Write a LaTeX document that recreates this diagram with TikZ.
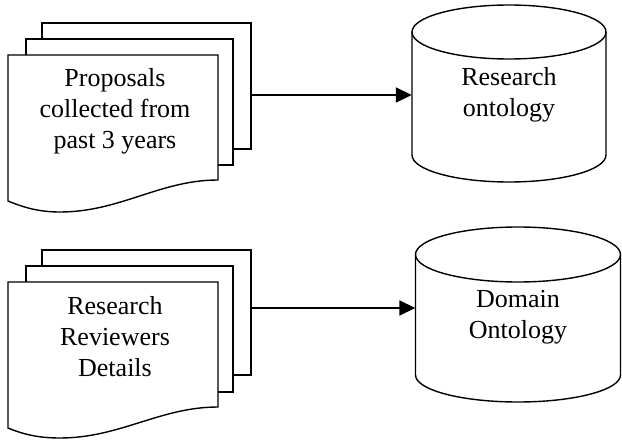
\documentclass[tikz,border=0pt]{standalone}
\usepackage{fontspec}
\setmainfont{Liberation Serif}
\usetikzlibrary{arrows.meta}
\begin{document}
\begin{tikzpicture}[x=1pt,y=1pt,
  page/.style={draw, fill=white, line width=1.4pt, inner sep=0pt},
  shapeline/.style={draw, fill=white, line width=1.4pt},
  txt/.style={align=center, font=\fontsize{26}{31}\selectfont, inner sep=0pt},
  flow/.style={line width=1.8pt, -{Triangle[length=16pt,width=15pt]}}]
\useasboundingbox (0,0) rectangle (622,440);
% top document stack
\node[page, minimum width=209pt, minimum height=126pt] (doc1) at (146.5,354) {};
\node[page, minimum width=207pt, minimum height=126pt] (mid1) at (129.5,338) {};
\path[shapeline] (8,385) -- (218,385) -- (218,260)
  .. controls (160,260) and (120,228) .. (60,228)
  .. controls (40,228) and (25,232) .. (8,239) -- cycle;
\node[txt] (t1) at (115,329) {Proposals\\collected from\\past 3 years};
% bottom document stack
\node[page, minimum width=209pt, minimum height=125pt] (doc2) at (146.5,127.5) {};
\node[page, minimum width=207pt, minimum height=126pt] (mid2) at (129.5,111) {};
\path[shapeline] (8,158) -- (218,158) -- (218,33)
  .. controls (160,33) and (120,2) .. (60,2)
  .. controls (40,2) and (25,5) .. (8,12) -- cycle;
\node[txt] (t2) at (115,103.5) {Research\\Reviewers\\Details};
% cylinder 1
\path[shapeline] (412,408) -- (412,285) arc[start angle=180, end angle=360, x radius=97, y radius=27] -- (606,408);
\draw[line width=1.4pt] (509,408) ellipse[x radius=97, y radius=27];
\node[txt, minimum width=194pt] (db1) at (509,345) {Research\\ontology};
% cylinder 2
\path[shapeline] (415.5,185.5) -- (415.5,65) arc[start angle=180, end angle=360, x radius=102.5, y radius=27] -- (620.5,185.5);
\draw[line width=1.4pt] (518,185.5) ellipse[x radius=102.5, y radius=27.5];
\node[txt, minimum width=205pt] (db2) at (518,122.5) {Domain\\Ontology};
% arrows
\draw[flow] (doc1.east |- db1.west) -- (db1.west);
\draw[flow] (doc2.east |- 0,132) -- (db2.west |- 0,132);
\end{tikzpicture}
\end{document}
